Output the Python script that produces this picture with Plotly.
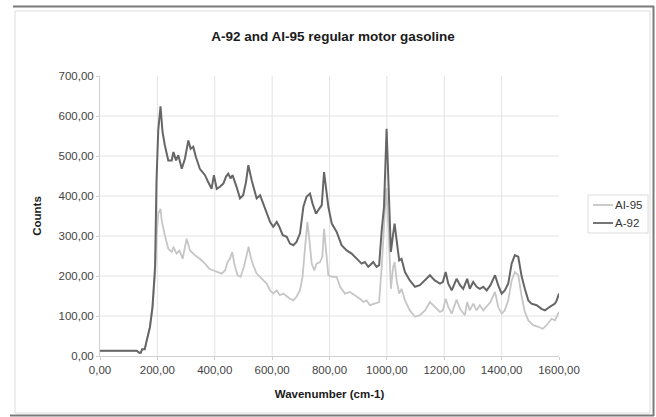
import plotly.graph_objects as go

# ---------------- data ----------------
wavenumber_a92 = [0, 60, 128, 137, 142, 147, 156, 163, 174, 183, 192, 197, 203, 211, 218, 226, 238, 250, 256, 265,
                  273, 285, 296, 308, 316, 325, 334, 348, 366, 377, 389, 397, 407, 418, 430, 439, 447, 455, 462,
                  476, 488, 499, 509, 517, 529, 546, 558, 569, 581, 593, 604, 616, 625, 637, 651, 662, 674, 685,
                  697, 709, 720, 732, 741, 753, 764, 773, 781, 788, 796, 808, 825, 842, 860, 877, 895, 912, 923,
                  935, 941, 952, 964, 973, 982, 990, 999, 1006, 1014, 1022, 1027, 1034, 1043, 1051, 1063, 1080,
                  1098, 1115, 1133, 1150, 1167, 1185, 1195, 1205, 1214, 1226, 1243, 1255, 1266, 1280, 1289, 1301,
                  1313, 1324, 1336, 1348, 1361, 1377, 1388, 1400, 1411, 1423, 1435, 1446, 1458, 1470, 1481, 1493,
                  1504, 1522, 1539, 1551, 1568, 1586, 1592, 1600]
counts_a92 = [13, 13, 13, 8, 8, 17, 17, 39, 72, 123, 223, 439, 564, 624, 560, 527, 489, 489, 510, 489,
              502, 468, 493, 539, 518, 523, 498, 468, 452, 435, 418, 452, 418, 423, 431, 448, 456, 444, 452,
              423, 394, 402, 435, 477, 439, 394, 402, 381, 360, 335, 323, 335, 323, 302, 298, 281, 277, 285,
              306, 373, 398, 406, 381, 356, 368, 377, 460, 414, 373, 331, 310, 277, 264, 256, 243, 231, 235,
              223, 227, 235, 223, 227, 314, 373, 568, 414, 260, 306, 331, 289, 239, 243, 210, 189,
              173, 177, 189, 202, 189, 181, 185, 210, 181, 164, 193, 177, 168, 193, 168, 185,
              173, 168, 173, 164, 177, 202, 177, 156, 164, 181, 231, 252, 248, 198, 168, 139,
              131, 127, 118, 114, 123, 131, 139, 156]

wavenumber_ai95 = [0, 60, 128, 137, 142, 147, 156, 163, 174, 183, 192, 197, 203, 211, 215, 226, 238, 250, 256, 267,
                   277, 288, 302, 314, 331, 348, 366, 381, 395, 412, 424, 436, 445, 453, 461, 468, 479, 490, 502,
                   511, 518, 525, 534, 546, 558, 569, 581, 593, 604, 616, 627, 639, 651, 662, 674, 685, 697, 706,
                   715, 723, 730, 738, 747, 755, 767, 775, 781, 788, 796, 808, 825, 837, 854, 871, 889, 906, 918,
                   929, 941, 958, 973, 982, 990, 998, 1006, 1014, 1022, 1027, 1034, 1043, 1051, 1063, 1080, 1098,
                   1115, 1133, 1150, 1167, 1185, 1195, 1205, 1214, 1226, 1243, 1255, 1272, 1280, 1289, 1301, 1313,
                   1324, 1336, 1348, 1361, 1377, 1388, 1400, 1411, 1423, 1435, 1446, 1458, 1470, 1481, 1493, 1510,
                   1528, 1543, 1557, 1574, 1586, 1600]
counts_ai95 = [13, 13, 13, 8, 8, 17, 17, 39, 72, 120, 206, 298, 356, 368, 339, 302, 268, 260, 273, 256,
               264, 243, 293, 264, 252, 243, 231, 218, 214, 210, 206, 214, 235, 243, 260, 231, 202, 198, 223,
               252, 273, 248, 227, 206, 198, 189, 181, 164, 156, 164, 152, 156, 148, 143, 139, 148, 164, 198,
               273, 335, 289, 231, 214, 231, 235, 248, 318, 264, 202, 198, 198, 173, 156, 160, 152, 143, 135,
               139, 127, 131, 135, 223, 323, 420, 314, 168, 223, 235, 189, 156, 168, 139, 114, 98,
               102, 114, 135, 123, 110, 114, 143, 123, 106, 141, 118, 102, 135, 114, 131, 114,
               127, 114, 123, 135, 160, 123, 106, 114, 139, 189, 210, 202, 148, 110, 89, 77,
               73, 68, 77, 93, 89, 110]

x_ticks = [0, 200, 400, 600, 800, 1000, 1200, 1400, 1600]
x_tick_labels = ["0,00", "200,00", "400,00", "600,00", "800,00", "1000,00", "1200,00", "1400,00", "1600,00"]
y_ticks = [0, 100, 200, 300, 400, 500, 600, 700]
y_tick_labels = ["0,00", "100,00", "200,00", "300,00", "400,00", "500,00", "600,00", "700,00"]

series_names = ["AI-95", "A-92"]
series_colors = ["#c6c6c6", "#666666"]

# ---------------- layout geometry ----------------
W, H = 656, 417
L, R, T, B = 100, 97, 76, 61
PW, PH = W - L - R, H - T - B


def px(x):
    return (x - L) / PW


def py(y):
    return (H - B - y) / PH


FONT = "Liberation Sans, Arial, sans-serif"

fig = go.Figure()
fig.add_trace(go.Scatter(x=wavenumber_ai95, y=counts_ai95, mode="lines", name=series_names[0],
                         line=dict(color=series_colors[0], width=1.8), showlegend=False))
fig.add_trace(go.Scatter(x=wavenumber_a92, y=counts_a92, mode="lines", name=series_names[1],
                         line=dict(color=series_colors[1], width=2), showlegend=False))

shapes = []
grid_color = "#e3e3e3"
# gridlines
for v in x_ticks[1:-1]:
    shapes.append(dict(type="line", xref="x", yref="y", x0=v, x1=v, y0=y_ticks[0], y1=y_ticks[-1],
                       line=dict(color=grid_color, width=1), layer="below"))
for v in y_ticks[1:-1]:
    shapes.append(dict(type="line", xref="x", yref="y", x0=x_ticks[0], x1=x_ticks[-1], y0=v, y1=v,
                       line=dict(color=grid_color, width=1), layer="below"))

# outer frame
shapes.append(dict(type="rect", xref="paper", yref="paper", x0=px(15), x1=px(650), y0=py(413), y1=py(11),
                   line=dict(color="#dddddd", width=1), layer="below"))
dark = "#7a7a7a"
shapes.append(dict(type="line", xref="paper", yref="paper", x0=px(13), x1=px(654), y0=py(6.5), y1=py(6.5),
                   line=dict(color=dark, width=2)))
shapes.append(dict(type="line", xref="paper", yref="paper", x0=px(653.5), x1=px(653.5), y0=py(6), y1=py(416),
                   line=dict(color=dark, width=2)))
shapes.append(dict(type="line", xref="paper", yref="paper", x0=px(10), x1=px(654), y0=py(415.5), y1=py(415.5),
                   line=dict(color=dark, width=2)))

# legend (manual)
shapes.append(dict(type="rect", xref="paper", yref="paper", x0=px(588), x1=px(648), y0=py(233), y1=py(195),
                   line=dict(color="#dcdcdc", width=1), fillcolor="white"))
annotations = []
for i, (name, col) in enumerate(zip(series_names, series_colors)):
    yy = 205 + i * 18
    shapes.append(dict(type="line", xref="paper", yref="paper", x0=px(593), x1=px(613), y0=py(yy), y1=py(yy),
                       line=dict(color=col, width=1.8)))
    annotations.append(dict(xref="paper", yref="paper", x=px(613), y=py(yy), text=name, showarrow=False,
                            xanchor="left", yanchor="middle", font=dict(family=FONT, size=11.5, color="#333333")))

fig.update_layout(
    width=W, height=H,
    margin=dict(l=L, r=R, t=T, b=B),
    paper_bgcolor="white", plot_bgcolor="white",
    title=dict(text="<b>A-92 and AI-95 regular motor gasoline</b>", x=(333) / W, xanchor="center",
               y=1 - 36 / H, yanchor="middle", font=dict(family=FONT, size=13.5, color="#1a1a1a")),
    shapes=shapes, annotations=annotations,
    showlegend=False,
    xaxis=dict(range=[x_ticks[0], x_ticks[-1]], tickvals=x_ticks, ticktext=x_tick_labels,
               showgrid=False, zeroline=False, showline=True, linecolor="#d0d0d0", linewidth=1,
               ticks="outside", ticklen=3, tickcolor="#d0d0d0",
               tickfont=dict(family=FONT, size=11.5, color="#444444"),
               title=dict(text="<b>Wavenumber (cm-1)</b>", font=dict(family=FONT, size=11.5, color="#1a1a1a"),
                          standoff=15)),
    yaxis=dict(range=[y_ticks[0], y_ticks[-1]], tickvals=y_ticks, ticktext=y_tick_labels,
               showgrid=False, zeroline=False, showline=True, linecolor="#d0d0d0", linewidth=1,
               ticks="outside", ticklen=3, tickcolor="#d0d0d0",
               tickfont=dict(family=FONT, size=11.5, color="#444444"),
               title=dict(text="<b>Counts</b>", font=dict(family=FONT, size=11.5, color="#1a1a1a"),
                          standoff=14)),
)

fig.write_html("out.html", config={"displayModeBar": False},
               post_script="document.body.style.margin='0';document.body.style.overflow='hidden';")
